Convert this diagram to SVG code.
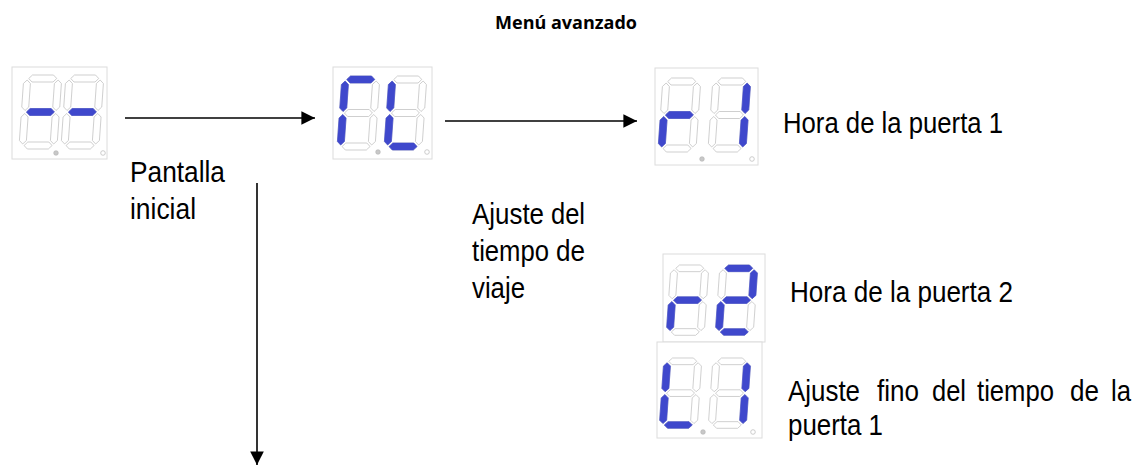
<svg xmlns="http://www.w3.org/2000/svg" xmlns:xlink="http://www.w3.org/1999/xlink" width="1141" height="475" viewBox="0 0 1141 475">
<style>
.off{fill:none;stroke:#c4c4c4;stroke-width:0.8}
.on{fill:#3f48cc;stroke:#3f48cc;stroke-width:0.6}
.box{fill:#fff;stroke:#dcdcdc;stroke-width:1}
.dot{fill:#c8c8c8;stroke:#b0b0b0;stroke-width:0.6}
.odot{fill:#fff;stroke:#c0c0c0;stroke-width:0.8}
.t{font-family:"Liberation Sans",Arial,sans-serif;font-size:29px;fill:#000}
.title{font-family:"Open Sans","Liberation Sans",sans-serif;font-size:18px;font-weight:bold;fill:#000}
.conn{stroke:#000;stroke-width:1.6;fill:none}
</style>
<defs>
<polygon id="sa" points="5,3.5 8.5,0 29.5,0 33,3.5 29.5,7 8.5,7"/>
<polygon id="sg" points="5,37 8.5,33.5 29.5,33.5 33,37 29.5,40.5 8.5,40.5"/>
<polygon id="sd" points="5,70.5 8.5,67 29.5,67 33,70.5 29.5,74 8.5,74"/>
<polygon id="sf" points="3.5,5 7,8.5 7,32 3.5,35.5 0,32 0,8.5"/>
<polygon id="se" points="3.5,38.5 7,42 7,65.5 3.5,69 0,65.5 0,42"/>
<polygon id="sb" points="34.5,5 38,8.5 38,32 34.5,35.5 31,32 31,8.5"/>
<polygon id="sc" points="34.5,38.5 38,42 38,65.5 34.5,69 31,65.5 31,42"/>
<g id="d8" class="off">
<use href="#sa"/><use href="#sb"/><use href="#sc"/><use href="#sd"/><use href="#se"/><use href="#sf"/><use href="#sg"/>
</g>
<marker id="ah" viewBox="0 0 10 10" refX="10" refY="5" markerWidth="8.5" markerHeight="9" markerUnits="strokeWidth" orient="auto">
<path d="M0,0 L10,5 L0,10 Z" fill="#000"/>
</marker>
</defs>

<text class="title" x="637" y="29" text-anchor="end">Menú avanzado</text>

<g id="connectors">
<line class="conn" x1="125" y1="118" x2="315" y2="118" marker-end="url(#ah)"/>
<line class="conn" x1="445" y1="121" x2="637" y2="121" marker-end="url(#ah)"/>
<line class="conn" x1="257" y1="183" x2="257" y2="465" marker-end="url(#ah)"/>
</g>

<g id="node-pantalla" transform="translate(12,67)">
<rect class="box" x="0" y="0" width="95" height="92"/>
<g transform="translate(12,8) skewX(-4)"><use href="#d8"/><use href="#sg" class="on"/></g>
<g transform="translate(54,8) skewX(-4)"><use href="#d8"/><use href="#sg" class="on"/></g>
<circle class="dot" cx="44" cy="86" r="2.3"/>
<circle class="odot" cx="91" cy="86" r="2.3"/>
</g>

<g id="node-cl" transform="translate(333,67)">
<rect class="box" x="0" y="0" width="99" height="92"/>
<g transform="translate(9,9) skewX(-4)"><use href="#d8"/><use href="#sa" class="on"/><use href="#sf" class="on"/><use href="#se" class="on"/></g>
<g transform="translate(56,9) skewX(-4)"><use href="#d8"/><use href="#sf" class="on"/><use href="#se" class="on"/><use href="#sd" class="on"/></g>
<circle class="dot" cx="45" cy="85" r="2.3"/>
<circle class="odot" cx="94" cy="85" r="2.3"/>
</g>

<g id="node-r1" transform="translate(655,68)">
<rect class="box" x="0" y="0" width="103" height="97"/>
<g transform="translate(8,10) skewX(-4)"><use href="#d8"/><use href="#sg" class="on"/><use href="#se" class="on"/></g>
<g transform="translate(58,10) skewX(-4)"><use href="#d8"/><use href="#sb" class="on"/><use href="#sc" class="on"/></g>
<circle class="dot" cx="47" cy="91" r="2.3"/>
<circle class="odot" cx="97" cy="91" r="2.3"/>
</g>

<g id="node-r2" transform="translate(663,254)">
<rect class="box" x="0" y="0" width="102" height="88"/>
<g transform="translate(8,11) skewX(-4) scale(1,0.95)"><use href="#d8"/><use href="#sg" class="on"/><use href="#se" class="on"/></g>
<g transform="translate(57,11) skewX(-4) scale(1,0.95)"><use href="#d8"/><use href="#sa" class="on"/><use href="#sb" class="on"/><use href="#sg" class="on"/><use href="#se" class="on"/><use href="#sd" class="on"/></g>
</g>

<g id="node-l1" transform="translate(657,342)">
<rect class="box" x="0" y="0" width="105" height="96"/>
<g transform="translate(7,16) skewX(-4) scale(1,0.95)"><use href="#d8"/><use href="#sf" class="on"/><use href="#se" class="on"/><use href="#sd" class="on"/></g>
<g transform="translate(56,16) skewX(-4) scale(1,0.95)"><use href="#d8"/><use href="#sb" class="on"/><use href="#sc" class="on"/></g>
<circle class="dot" cx="46" cy="90" r="2.3"/>
<circle class="odot" cx="96" cy="90" r="2.3"/>
</g>

<g id="labels">
<text class="t" x="130" y="182" textLength="95" lengthAdjust="spacingAndGlyphs">Pantalla</text>
<text class="t" x="130" y="219" textLength="66" lengthAdjust="spacingAndGlyphs">inicial</text>

<text class="t" x="472" y="224" textLength="72" lengthAdjust="spacingAndGlyphs">Ajuste</text>
<text class="t" x="551" y="224" textLength="34" lengthAdjust="spacingAndGlyphs">del</text>
<text class="t" x="472" y="261" textLength="77" lengthAdjust="spacingAndGlyphs">tiempo</text>
<text class="t" x="556" y="261" textLength="29" lengthAdjust="spacingAndGlyphs">de</text>
<text class="t" x="472" y="298" textLength="53" lengthAdjust="spacingAndGlyphs">viaje</text>

<text class="t" x="783" y="133" textLength="220" lengthAdjust="spacingAndGlyphs">Hora de la puerta 1</text>
<text class="t" x="790" y="302" textLength="223" lengthAdjust="spacingAndGlyphs">Hora de la puerta 2</text>

<text class="t" x="788" y="401" textLength="72" lengthAdjust="spacingAndGlyphs">Ajuste</text>
<text class="t" x="877" y="401" textLength="42" lengthAdjust="spacingAndGlyphs">fino</text>
<text class="t" x="932" y="401" textLength="34" lengthAdjust="spacingAndGlyphs">del</text>
<text class="t" x="977" y="401" textLength="77" lengthAdjust="spacingAndGlyphs">tiempo</text>
<text class="t" x="1070" y="401" textLength="29" lengthAdjust="spacingAndGlyphs">de</text>
<text class="t" x="1111" y="401" textLength="20" lengthAdjust="spacingAndGlyphs">la</text>
<text class="t" x="788" y="435" textLength="95" lengthAdjust="spacingAndGlyphs">puerta 1</text>
</g>
</svg>
